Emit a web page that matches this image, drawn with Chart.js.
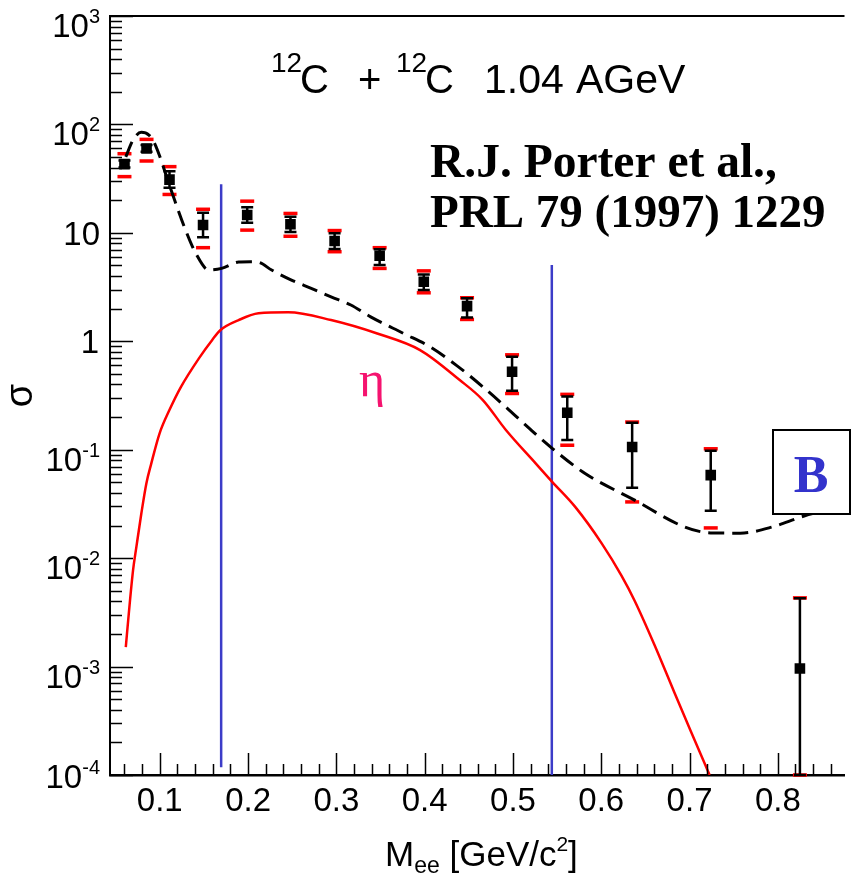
<!DOCTYPE html>
<html>
<head>
<meta charset="utf-8">
<script src="https://cdn.jsdelivr.net/npm/chart.js@4.4.0/dist/chart.umd.min.js"></script>
<style>
  html, body { margin: 0; padding: 0; background: #fff; }
  canvas { display: block; }
</style>
</head>
<body>
<canvas id="myChart" width="852" height="877"></canvas>
<script>
// measured points: Mee [GeV/c2] and sigma, with stat (black) and sys (red) limits
var dataMass  = [0.060, 0.085, 0.111, 0.149, 0.199, 0.248, 0.298, 0.349, 0.399, 0.448, 0.499, 0.5615, 0.635, 0.724, 0.825];
var dataSigma = [43, 60, 31, 11.8, 14.6, 12.0, 8.4, 6.15, 3.54, 2.11, 0.524, 0.219, 0.106, 0.0583, 0.00096];
var statLow   = [40, 56, 26, 9.1, 12.4, 10.2, 7.1, 5.05, 2.97, 1.66, 0.35, 0.123, 0.0446, 0.0273, 0.0001];
var statHigh  = [46.5, 64.5, 37, 15.3, 17.2, 14.1, 9.9, 7.05, 4.14, 2.49, 0.72, 0.309, 0.177, 0.0977, 0.00427];
var sysLow    = [33, 46, 22.6, 7.3, 10.6, 9.3, 6.7, 4.7, 2.8, 1.59, 0.33, 0.110, 0.033, 0.019, 0.0001];
var sysHigh   = [53.7, 72.8, 40.8, 16.5, 19.6, 15.1, 10.5, 7.3, 4.46, 2.52, 0.75, 0.324, 0.180, 0.102, 0.0043];

// eta dalitz contribution (red)
var etaMass  = [0.0615, 0.0627, 0.0697, 0.0735, 0.0791, 0.0848, 0.0904, 0.0997, 0.1109, 0.124, 0.1445, 0.1594, 0.1688, 0.1894, 0.2118, 0.2454, 0.294, 0.3463, 0.3948, 0.4397, 0.4659, 0.492, 0.5257, 0.5444, 0.5705, 0.6005, 0.6229, 0.6378, 0.6602, 0.6827, 0.7013, 0.7227];
var etaSigma = [0.00151, 0.00195, 0.0077, 0.0127, 0.0258, 0.0489, 0.0748, 0.141, 0.232, 0.380, 0.70, 1.03, 1.27, 1.57, 1.81, 1.85, 1.57, 1.18, 0.83, 0.439, 0.287, 0.152, 0.0748, 0.0506, 0.0297, 0.0137, 0.0069, 0.00405, 0.00159, 0.00058, 0.000255, 0.0001];

// sum of all sources (black dashed)
var totalMass  = [0.0615, 0.0697, 0.0791, 0.0877, 0.0941, 0.1128, 0.1277, 0.1408, 0.1557, 0.170, 0.1894, 0.2025, 0.2118, 0.2267, 0.2491, 0.2715, 0.294, 0.3164, 0.3388, 0.3762, 0.406, 0.436, 0.4659, 0.4957, 0.5182, 0.5444, 0.5817, 0.6378, 0.6938, 0.7238, 0.7574, 0.7947, 0.8247, 0.856];
var totalSigma = [50.3, 71.8, 84.6, 79.8, 67, 24.8, 11.4, 6.47, 4.54, 4.70, 5.38, 5.41, 5.35, 4.54, 3.67, 3.08, 2.57, 2.16, 1.68, 1.18, 0.89, 0.60, 0.38, 0.232, 0.158, 0.103, 0.0604, 0.0343, 0.0195, 0.0171, 0.0170, 0.0195, 0.0237, 0.0283];

// blue vertical markers
var markerMass   = [0.1695, 0.544];
var markerTop    = [28, 5.05];
var markerBottom = [0.000118, 0.0001];

var xTickValues = [0.1, 0.2, 0.3, 0.4, 0.5, 0.6, 0.7, 0.8];
var xTickLabels = ['0.1', '0.2', '0.3', '0.4', '0.5', '0.6', '0.7', '0.8'];
var yTickPowers = [-4, -3, -2, -1, 0, 1, 2, 3];

var SANS = "'Liberation Sans', Arial, sans-serif";
var SERIF = "'Liberation Serif', 'Times New Roman', serif";

function pairs(xs, ys) {
    return xs.map(function(x, i) { return { x: x, y: ys[i] }; });
}

function text(ctx, s, x, y, size, opts) {
    opts = opts || {};
    ctx.font = (opts.bold ? 'bold ' : '') + size + 'px ' + (opts.family || SANS);
    ctx.fillStyle = opts.color || '#000';
    ctx.textAlign = opts.align || 'left';
    ctx.textBaseline = 'alphabetic';
    ctx.fillText(s, x, y);
    return ctx.measureText(s).width;
}

var errorBars = {
    id: 'errorBars',
    beforeDatasetDraw: function(chart, args) {
        if (args.index !== 4) return;
        var ctx = chart.ctx, xs = chart.scales.x, ys = chart.scales.y;
        ctx.save();
        dataMass.forEach(function(m, i) {
            var px = xs.getPixelForValue(m);
            ctx.strokeStyle = '#ff0000';
            ctx.lineWidth = 3.5;
            [sysLow[i], sysHigh[i]].forEach(function(v) {
                var py = ys.getPixelForValue(v);
                ctx.beginPath();
                ctx.moveTo(px - 7, py);
                ctx.lineTo(px + 7, py);
                ctx.stroke();
            });
            var y1 = ys.getPixelForValue(statLow[i]);
            var y2 = ys.getPixelForValue(statHigh[i]);
            ctx.strokeStyle = '#000';
            ctx.lineWidth = 2.5;
            ctx.beginPath();
            ctx.moveTo(px, y1); ctx.lineTo(px, y2);
            ctx.moveTo(px - 6, y1); ctx.lineTo(px + 6, y1);
            ctx.moveTo(px - 6, y2); ctx.lineTo(px + 6, y2);
            ctx.stroke();
        });
        ctx.restore();
    }
};

var frame = {
    id: 'frame',
    afterDatasetsDraw: function(chart) {
        var ctx = chart.ctx, a = chart.chartArea, xs = chart.scales.x, ys = chart.scales.y;
        ctx.save();
        ctx.strokeStyle = '#000';

        // top frame line
        ctx.lineWidth = 2;
        ctx.beginPath();
        ctx.moveTo(a.left, a.top);
        ctx.lineTo(a.right, a.top);
        ctx.stroke();

        // ticks drawn inside, ROOT style
        ctx.lineWidth = 1.5;
        ctx.beginPath();
        yTickPowers.forEach(function(p, k) {
            for (var m = 1; m < 10; m++) {
                if (k === yTickPowers.length - 1 && m > 1) break;
                var py = Math.round(ys.getPixelForValue(m * Math.pow(10, p))) + 0.5;
                ctx.moveTo(a.left, py);
                ctx.lineTo(a.left + (m === 1 ? 23 : 12), py);
            }
        });
        for (var t = 3; t <= 43; t++) {
            var px = Math.round(xs.getPixelForValue(t * 0.02)) + 0.5;
            if (px > a.right) break;
            ctx.moveTo(px, a.bottom);
            ctx.lineTo(px, a.bottom - (t % 5 === 0 ? 22 : 11));
        }
        ctx.stroke();

        // "B" box
        ctx.fillStyle = '#fff';
        ctx.fillRect(772, 429, 78, 85);
        ctx.lineWidth = 2;
        ctx.strokeRect(773, 430, 77, 84);
        text(ctx, 'B', 811, 492, 52, { family: SERIF, bold: true, color: '#3333cc', align: 'center' });
        ctx.restore();
    },
    afterDraw: function(chart) {
        var ctx = chart.ctx, a = chart.chartArea, xs = chart.scales.x, ys = chart.scales.y;
        ctx.save();

        // x tick labels
        xTickValues.forEach(function(v, i) {
            text(ctx, xTickLabels[i], xs.getPixelForValue(v), 811, 33, { align: 'center' });
        });

        // y tick labels
        yTickPowers.forEach(function(p) {
            var py = ys.getPixelForValue(Math.pow(10, p));
            if (p === 0) {
                text(ctx, '1', 99, py + 12, 33, { align: 'right' });
            } else if (p === 1) {
                text(ctx, '10', 100, py + 12, 33, { align: 'right' });
            } else {
                var off = p === -4 ? -8 : 0;
                var w = text(ctx, String(p), 100, py + 7 + off, 20, { align: 'right' });
                text(ctx, '10', 100 - w, py + 21 + off, 33, { align: 'right' });
            }
        });

        // axis titles
        ctx.save();
        ctx.translate(18, (a.top + a.bottom) / 2);
        ctx.rotate(-Math.PI / 2);
        text(ctx, '\u03c3', 0, 14, 38, { align: 'center' });
        ctx.restore();

        var x = 385;
        x += text(ctx, 'M', x, 866, 35);
        x += text(ctx, 'ee', x, 873, 23);
        x += text(ctx, ' [GeV/c', x, 866, 35);
        x += text(ctx, '2', x, 851, 21);
        text(ctx, ']', x, 866, 35);

        // reaction label
        text(ctx, '12', 271, 71.5, 28);
        text(ctx, 'C', 300, 92.5, 40);
        text(ctx, '+', 358, 92.5, 40);
        text(ctx, '12', 396, 71.5, 28);
        text(ctx, 'C', 425, 92.5, 40);
        text(ctx, '1.04', 484, 92.5, 41);
        text(ctx, 'AGeV', 576, 92.5, 41);

        // reference
        text(ctx, 'R.J. Porter et al.,', 430, 177, 47.5, { family: SERIF, bold: true });
        text(ctx, 'PRL 79 (1997) 1229', 430, 227, 47, { family: SERIF, bold: true });

        // eta label
        text(ctx, '\u03b7', 359, 396, 50, { family: SERIF, color: '#f5136f' });
        ctx.restore();
    }
};

var ctx = document.getElementById('myChart').getContext('2d');
var chart = new Chart(ctx, {
    type: 'scatter',
    data: {
        datasets: [
            {
                label: 'sum',
                data: pairs(totalMass, totalSigma),
                showLine: true,
                borderColor: '#000',
                borderWidth: 3,
                borderDash: [16, 8],
                pointRadius: 0,
                cubicInterpolationMode: 'monotone'
            },
            {
                label: 'eta',
                data: pairs(etaMass, etaSigma),
                showLine: true,
                borderColor: '#ff0000',
                borderWidth: 2.5,
                pointRadius: 0,
                cubicInterpolationMode: 'monotone'
            },
            {
                label: 'marker 1',
                data: [{ x: markerMass[0], y: markerTop[0] }, { x: markerMass[0], y: markerBottom[0] }],
                showLine: true,
                borderColor: '#3c3cc8',
                borderWidth: 2.5,
                pointRadius: 0
            },
            {
                label: 'marker 2',
                data: [{ x: markerMass[1], y: markerTop[1] }, { x: markerMass[1], y: markerBottom[1] }],
                showLine: true,
                borderColor: '#3c3cc8',
                borderWidth: 2.5,
                pointRadius: 0
            },
            {
                label: 'data',
                data: pairs(dataMass, dataSigma),
                pointStyle: 'rect',
                pointRadius: 7.5,
                backgroundColor: '#000',
                borderWidth: 0
            }
        ]
    },
    options: {
        responsive: false,
        animation: false,
        devicePixelRatio: 1,
        layout: { padding: { top: 16, left: 0, right: 0, bottom: 0 } },
        plugins: {
            legend: { display: false },
            tooltip: { enabled: false }
        },
        scales: {
            x: {
                type: 'linear',
                min: 0.04361,
                max: 0.8755,
                grid: { display: false },
                border: { display: true, color: '#000', width: 2.5 },
                ticks: { display: false },
                afterFit: function(s) { s.height = 102; }
            },
            y: {
                type: 'logarithmic',
                min: 0.0001,
                max: 1000,
                grid: { display: false },
                border: { display: true, color: '#000', width: 2 },
                ticks: { display: false },
                afterFit: function(s) { s.width = 110; }
            }
        }
    },
    plugins: [errorBars, frame]
});
</script>
</body>
</html>
